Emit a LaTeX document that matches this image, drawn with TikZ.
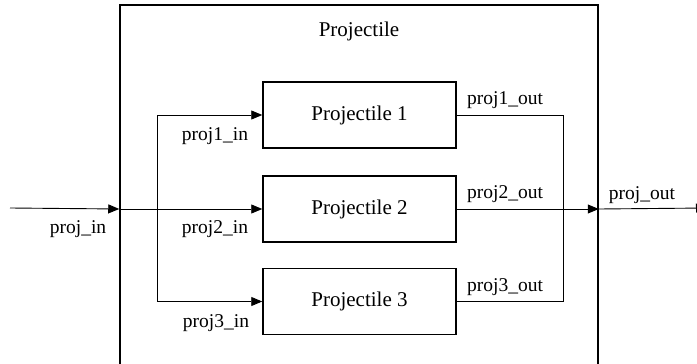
\documentclass[tikz,border=0pt]{standalone}
\usepackage{fontspec}
\setmainfont{Liberation Serif}
\usetikzlibrary{arrows.meta}
\begin{document}
\begin{tikzpicture}[x=1pt,y=-1pt,
  block/.style={draw,line width=1.5pt,minimum width=193pt,minimum height=66pt,
    inner sep=0pt,font=\fontsize{21}{25}\selectfont},
  frame/.style={draw,line width=1.5pt,minimum width=478pt,minimum height=380pt,inner sep=0pt},
  lbl/.style={inner sep=0pt,font=\fontsize{19.5}{23}\selectfont},
  wire/.style={line width=0.9pt},
  flow/.style={wire,-{Triangle[length=11pt,width=9pt]}}]
\clip (0,0) rectangle (697,364);
\fill[white] (0,0) rectangle (697,364);

% enclosing block and its title
\node[frame] (proj) at (359,195) {};
\node[inner sep=0pt,font=\fontsize{21}{25}\selectfont] (title) at (359,31) {Projectile};

% the three inner blocks
\node[block] (p1) at (359.5,115) {Projectile 1};
\node[block] (p2) at (359.5,209) {Projectile 2};
\node[block] (p3) at (359.5,301.5) {Projectile 3};

% free ends and branch points
\coordinate (in) at (10,208);
\coordinate (split) at (157,208);
\coordinate (merge) at (563,208);
\coordinate (out) at (707,208);

% input side
\draw[flow] (in) -- (proj.west |- p2.west);
\draw[flow] (proj.west |- p2.west) -- (p2.west);
\draw[wire] (split |- p1.west) -- (split |- p3.west);
\draw[flow] (split |- p1.west) -- (p1.west);
\draw[flow] (split |- p3.west) -- (p3.west);

% output side
\draw[wire] (p1.east) -- (merge |- p1.east) -- (merge |- p3.east) -- (p3.east);
\draw[flow] (p2.east) -- (proj.east |- p2.east);
\draw[flow] (proj.east |- p2.east) -- (out);

% signal names
\node[lbl] (lin)  at (78,229)  {proj\_in};
\node[lbl] (l1in) at (215,136) {proj1\_in};
\node[lbl] (l2in) at (215,229) {proj2\_in};
\node[lbl] (l3in) at (216,323) {proj3\_in};
\node[lbl] (l1o)  at (505,100) {proj1\_out};
\node[lbl] (l2o)  at (505,194) {proj2\_out};
\node[lbl] (l3o)  at (505,287) {proj3\_out};
\node[lbl] (lout) at (642,195) {proj\_out};
\end{tikzpicture}
\end{document}
